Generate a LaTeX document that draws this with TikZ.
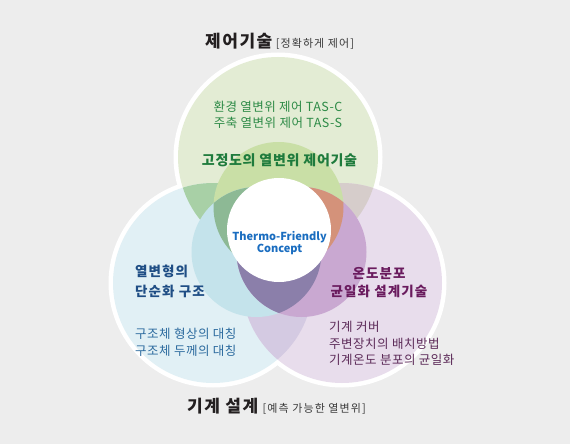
\documentclass[tikz,border=0pt]{standalone}
\usepackage{fontspec}
\setmainfont{Noto Sans CJK KR}
\definecolor{bgc}{HTML}{EDEDED}
\definecolor{bigT}{HTML}{E3ECD4}
\definecolor{bigL}{HTML}{E1F0F5}
\definecolor{bigR}{HTML}{E8DDEC}
\definecolor{bigTL}{HTML}{A8D0A6}
\definecolor{bigTR}{HTML}{D6CDCB}
\definecolor{bigLR}{HTML}{D4CAE2}
\definecolor{smT}{HTML}{C9DFA6}
\definecolor{smL}{HTML}{C4E3EB}
\definecolor{smR}{HTML}{C9A8D1}
\definecolor{smTL}{HTML}{8DB995}
\definecolor{smTR}{HTML}{D4927A}
\definecolor{smLR}{HTML}{8B7FAA}
\definecolor{ttl}{HTML}{231F20}
\definecolor{ttlb}{HTML}{3A3A3A}
\definecolor{grn}{HTML}{2E8B47}
\definecolor{grnb}{HTML}{1E7B3C}
\definecolor{blu}{HTML}{1A6DC0}
\definecolor{lb}{HTML}{1F4E85}
\definecolor{lr}{HTML}{2B6A9E}
\definecolor{pb}{HTML}{6A1B5E}
\definecolor{pr}{HTML}{5C2A58}
\begin{document}
\begin{tikzpicture}[x=1pt,y=-1pt,
  txt/.style={inner sep=0pt, anchor=base},
  big/.style={radius=100pt},
  small/.style={radius=65pt},
  titlef/.style={font=\bfseries\fontsize{17}{20}\selectfont\addfontfeatures{LetterSpace=9}, text=ttl},
  subf/.style={font=\fontsize{11}{13}\selectfont\addfontfeatures{LetterSpace=10}, text=ttlb},
  boldf/.style={font=\bfseries\fontsize{13.5}{16}\selectfont\addfontfeatures{LetterSpace=8}},
  regf/.style={font=\fontsize{12.5}{14}\selectfont\addfontfeatures{LetterSpace=4}}]
\useasboundingbox (0,0) rectangle (570,444);
\fill[bgc] (0,0) rectangle (570,444);
\coordinate (BT) at (278,157);
\coordinate (BL) at (213,283);
\coordinate (BR) at (342,283);
\coordinate (ST) at (278.5,207);
\coordinate (SL) at (256.5,252);
\coordinate (SR) at (301.5,252);
\coordinate (C) at (279,230);
% outer white border
\foreach \p in {BT,BL,BR} \draw[white, line width=9pt] (\p) circle[big];
% big circles
\fill[bigT] (BT) circle[big];
\fill[bigL] (BL) circle[big];
\fill[bigR] (BR) circle[big];
\begin{scope}
  \clip (BT) circle[big];
  \fill[bigTL] (BL) circle[big];
  \fill[bigTR] (BR) circle[big];
\end{scope}
\begin{scope}
  \clip (BL) circle[big];
  \fill[bigLR] (BR) circle[big];
\end{scope}
% small circles
\fill[smT] (ST) circle[small];
\fill[smL] (SL) circle[small];
\fill[smR] (SR) circle[small];
\begin{scope}
  \clip (ST) circle[small];
  \fill[smTL] (SL) circle[small];
  \fill[smTR] (SR) circle[small];
\end{scope}
\begin{scope}
  \clip (SL) circle[small];
  \fill[smLR] (SR) circle[small];
\end{scope}
\fill[white] (C) circle[radius=52pt];
% titles
\node[txt, titlef, anchor=base west] (title1) at (205,48) {제어기술};
\node[txt, subf, anchor=base west] (title1b) at ([xshift=3pt]title1.base east) {[정확하게 제어]};
\node[txt, titlef, anchor=base west] (title2) at (187,412) {기계 설계};
\node[txt, subf, anchor=base west] (title2b) at ([xshift=4pt]title2.base east) {[예측 가능한 열변위]};
% top texts
\node[txt, regf, text=grn] (g1) at (278,111.3) {환경 열변위 제어 TAS-C};
\node[txt, regf, text=grn] (g2) at (278,127.6) {주축 열변위 제어 TAS-S};
\node[txt, font=\bfseries\fontsize{14}{16}\selectfont\addfontfeatures{LetterSpace=5}, text=grnb] (g3) at (279.5,165.5) {고정도의 열변위 제어기술};
% center
\node[txt, font=\bfseries\fontsize{11}{13}\selectfont, text=blu] (c1) at (279.5,240) {Thermo-Friendly};
\node[txt, font=\bfseries\fontsize{11}{13}\selectfont, text=blu] (c2) at (279.5,252.7) {Concept};
% left
\node[txt, boldf, text=lb, anchor=base west] (l1) at (135,276.5) {열변형의};
\node[txt, boldf, text=lb, anchor=base west] (l2) at (135,296.5) {단순화 구조};
\node[txt, regf, text=lr, anchor=base west] (l3) at (135,338.6) {구조체 형상의 대칭};
\node[txt, regf, text=lr, anchor=base west] (l4) at (135,355.3) {구조체 두께의 대칭};
% right
\node[txt, boldf, text=pb] (r1) at (379,278) {온도분포};
\node[txt, boldf, text=pb] (r2) at (379,296.5) {균일화 설계기술};
\node[txt, regf, text=pr, anchor=base west] (r3) at (329,331.3) {기계 커버};
\node[txt, regf, text=pr, anchor=base west] (r4) at (329,348.3) {주변장치의 배치방법};
\node[txt, regf, text=pr, anchor=base west] (r5) at (329,364.8) {기계온도 분포의 균일화};
\end{tikzpicture}
\end{document}
